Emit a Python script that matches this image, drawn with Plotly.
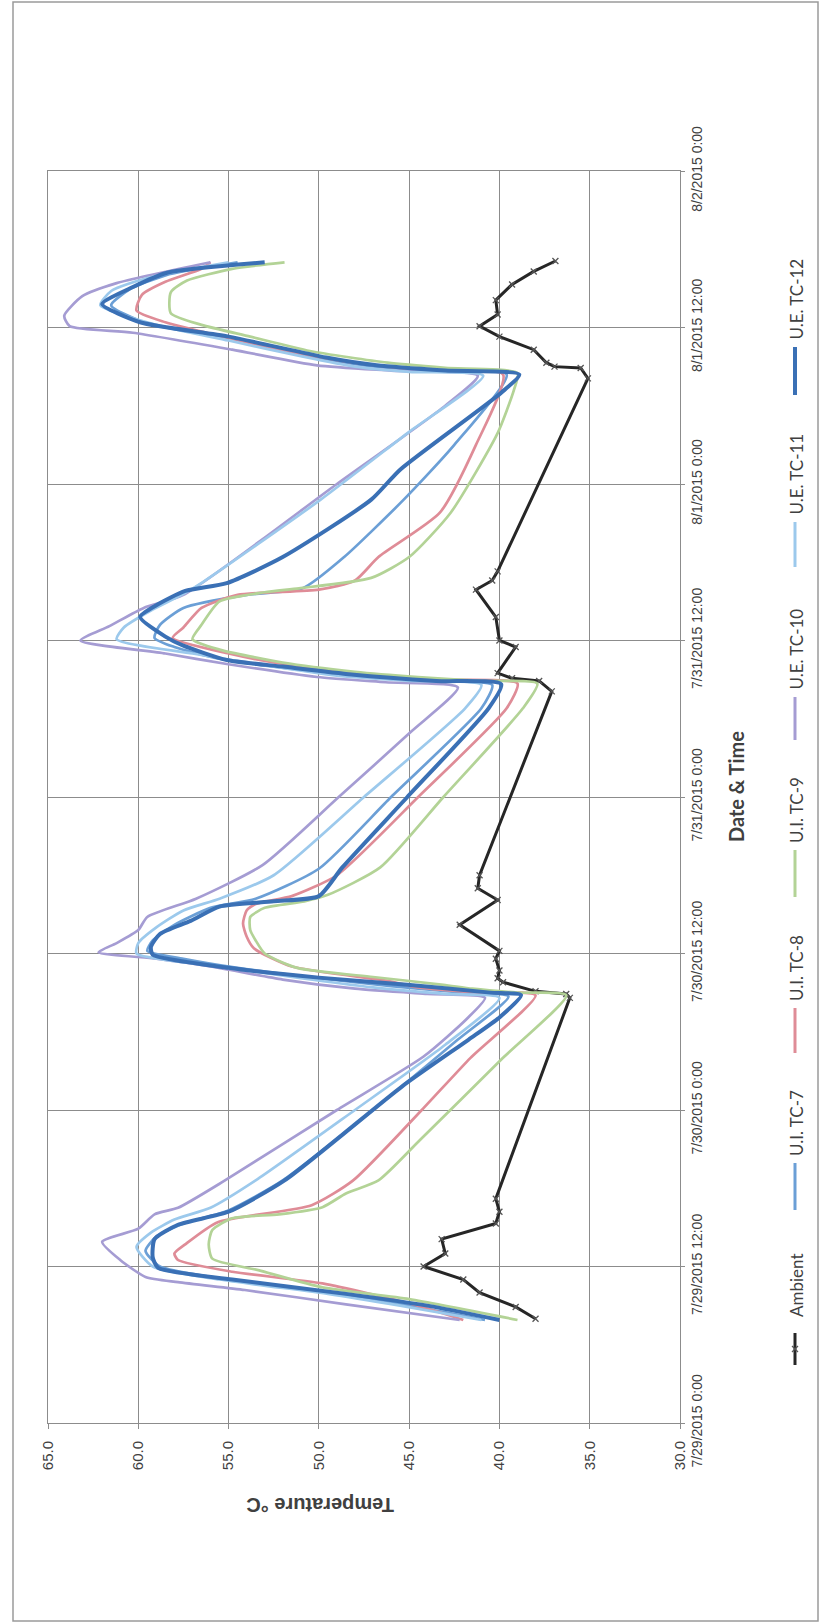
import plotly.graph_objects as go
import pandas as pd

# ---------------- data (hours since 7/29/2015 0:00, temperature in C) ----------------
date_ticks = ["2015-07-29 00:00", "2015-07-29 12:00", "2015-07-30 00:00", "2015-07-30 12:00",
              "2015-07-31 00:00", "2015-07-31 12:00", "2015-08-01 00:00", "2015-08-01 12:00",
              "2015-08-02 00:00"]
date_labels = ["7/29/2015 0:00", "7/29/2015 12:00", "7/30/2015 0:00", "7/30/2015 12:00",
               "7/31/2015 0:00", "7/31/2015 12:00", "8/1/2015 0:00", "8/1/2015 12:00",
               "8/2/2015 0:00"]
temp_ticks = [65, 60, 55, 50, 45, 40, 35, 30]
temp_labels = ["65.0", "60.0", "55.0", "50.0", "45.0", "40.0", "35.0", "30.0"]

ambient_h = [8.0, 8.9, 10.0, 11.0, 12.0, 13.0, 14.1, 15.3, 16.2, 17.2,
             32.6, 32.9, 33.1, 33.8, 34.1, 34.7, 35.6, 36.2, 38.2, 40.1, 41.0, 42.0,
             56.1, 56.9, 57.1, 57.5, 59.5, 60.0, 61.8, 63.9, 64.6, 65.3,
             80.1, 80.9, 81.0, 81.3, 82.3, 83.3, 84.1, 85.0, 86.1, 87.3, 88.3, 89.1]
ambient_t = [38.0, 39.1, 41.1, 42.0, 44.2, 43.0, 43.2, 40.2, 40.0, 40.2,
             36.1, 36.3, 38.0, 39.8, 40.1, 40.0, 40.2, 40.0, 42.2, 40.1, 41.2, 41.1,
             37.1, 37.8, 39.3, 40.1, 39.1, 40.0, 40.2, 41.3, 40.4, 40.1,
             35.1, 35.5, 36.95, 37.4, 38.1, 40.0, 41.1, 40.1, 40.2, 39.3, 38.1, 36.9]

tc7_h = [7.9, 9.0, 9.9, 11.0, 12.0, 13.2, 14.3, 15.3, 16.3, 18.6, 24.0, 29.4, 32.7,
         33.0, 33.5, 34.1, 34.9, 35.6, 36.2, 37.0, 38.2, 39.5, 40.2, 42.5, 48.0, 54.8, 56.6,
         56.9, 57.4, 58.0, 58.6, 59.5, 60.2, 61.2, 62.5, 63.5, 64.0, 66.4, 70.8, 75.0, 80.4,
         80.7, 81.1, 81.8, 83.2, 84.3, 85.7, 86.9, 88.0, 89.0]
tc7_t = [40.8, 45.0, 49.0, 55.0, 58.8, 59.6, 59.0, 57.5, 55.0, 52.0, 47.0, 42.3, 39.5,
         42.0, 46.0, 50.0, 54.5, 57.5, 59.5, 59.2, 58.0, 56.0, 53.5, 50.0, 46.0, 41.0, 40.4,
         44.0, 48.5, 52.5, 55.5, 58.0, 59.1, 58.8, 57.5, 54.0, 50.9, 48.6, 45.3, 42.5, 39.6,
         44.0, 47.5, 50.5, 55.0, 59.5, 61.5, 60.5, 58.5, 54.5]

tc8_h = [7.9, 9.1, 10.7, 11.6, 12.5, 13.0, 13.7, 15.4, 16.7, 18.6, 24.0, 28.0, 32.8,
         33.0, 33.4, 33.9, 35.0, 36.4, 37.3, 38.3, 39.3, 39.8, 40.4, 42.0, 48.0, 54.8, 56.7,
         57.0, 57.5, 58.2, 59.0, 60.2, 61.0, 62.5, 63.5, 63.9, 64.6, 66.4, 69.8, 75.0, 80.4,
         80.7, 81.2, 82.0, 83.2, 84.4, 85.3, 86.5, 87.5, 88.5, 89.0]
tc8_t = [42.0, 44.8, 49.8, 54.8, 57.8, 58.0, 57.4, 55.6, 50.4, 48.1, 44.3, 41.6, 38.0,
         41.0, 44.5, 46.2, 51.5, 53.6, 54.0, 54.2, 54.0, 53.5, 51.5, 49.0, 44.5, 39.6, 39.0,
         43.0, 48.0, 52.0, 55.0, 58.1, 57.5, 56.5, 54.5, 50.0, 48.0, 46.7, 43.3, 41.3, 39.8,
         44.0, 47.5, 51.0, 55.0, 58.5, 60.1, 59.8, 58.5, 56.5, 56.0]

tc9_h = [7.9, 9.5, 10.4, 11.7, 12.6, 13.7, 14.8, 15.7, 16.0, 16.55, 17.6, 18.6, 21.7, 28.0, 32.8,
         33.0, 33.3, 33.6, 34.2, 34.9, 36.0, 37.0, 37.8, 38.8, 39.5, 40.0, 40.5, 42.6, 48.0, 54.8, 56.7,
         56.9, 57.2, 57.6, 58.3, 59.3, 60.1, 61.2, 63.0, 63.7, 64.0, 64.8, 66.4, 69.8, 75.9, 79.2, 80.5,
         80.9, 81.3, 82.2, 83.3, 84.2, 85.1, 86.7, 87.6, 88.5, 89.0]
tc9_t = [39.0, 45.0, 49.8, 53.3, 55.9, 56.1, 55.9, 54.8, 52.2, 49.8, 48.5, 46.7, 44.4, 39.8, 36.3,
         39.0, 41.5, 43.1, 47.0, 51.2, 53.0, 53.5, 53.8, 53.8, 53.0, 50.8, 49.5, 46.6, 43.1, 38.7, 37.9,
         41.0, 44.5, 48.0, 52.0, 55.5, 57.0, 56.5, 55.5, 53.0, 51.1, 47.1, 45.0, 42.7, 40.1, 39.2, 39.0,
         43.0, 46.2, 50.5, 53.8, 56.5, 58.2, 58.2, 57.3, 54.8, 51.9]

tc10_h = [7.9, 9.1, 10.2, 10.8, 11.2, 12.5, 13.9, 14.9, 16.0, 16.5, 18.6, 24.0, 28.1, 31.0, 32.6,
          32.9, 33.3, 34.0, 35.0, 35.6, 36.1, 36.8, 37.8, 38.8, 40.2, 42.8, 48.0, 53.0, 56.4,
          56.8, 57.2, 58.2, 59.0, 60.0, 61.1, 62.5, 63.5, 72.0, 78.0, 80.3,
          80.7, 81.1, 82.3, 83.6, 84.1, 84.9, 86.4, 87.4, 89.0]
tc10_t = [42.2, 48.5, 54.1, 57.8, 59.6, 61.0, 62.0, 60.0, 59.1, 57.8, 55.2, 49.0, 44.2, 41.8, 40.8,
          44.0, 48.0, 52.0, 56.0, 59.0, 62.2, 61.2, 60.0, 59.5, 56.8, 53.1, 48.9, 44.9, 42.3,
          46.3, 50.1, 55.1, 58.5, 63.2, 61.6, 59.7, 57.5, 49.0, 43.0, 41.2,
          46.0, 50.1, 54.8, 60.3, 63.8, 64.1, 63.1, 61.2, 56.0]

tc11_h = [7.9, 9.0, 9.9, 11.0, 12.0, 13.5, 14.6, 15.6, 16.5, 18.6, 24.0, 29.0, 32.6,
          32.9, 33.4, 34.1, 35.0, 35.5, 36.0, 36.8, 38.0, 39.3, 40.2, 42.0, 48.0, 54.8, 56.6,
          56.9, 57.3, 58.1, 59.0, 60.1, 61.0, 62.3, 63.5, 64.5, 70.8, 76.0, 80.3,
          80.6, 81.0, 81.8, 83.0, 84.2, 85.7, 86.8, 87.8, 89.0]
tc11_t = [41.0, 45.5, 49.5, 55.5, 59.2, 60.1, 59.3, 58.0, 56.0, 53.5, 48.0, 43.0, 40.0,
          43.0, 47.0, 51.0, 55.5, 58.5, 60.1, 60.0, 59.0, 57.5, 55.5, 52.5, 47.5, 41.9, 41.0,
          45.0, 49.0, 53.0, 57.0, 61.2, 60.8, 59.3, 57.6, 56.4, 49.9, 45.0, 40.9,
          45.0, 48.0, 51.0, 55.0, 59.0, 62.1, 61.5, 59.5, 55.0]

tc12_h = [7.9, 9.0, 9.9, 11.0, 11.9, 12.7, 14.1, 15.2, 16.2, 18.6, 25.8, 29.4, 31.1, 32.8,
          33.0, 33.6, 34.15, 34.9, 35.9, 36.5, 37.5, 38.5, 39.6, 40.0, 40.4, 42.6, 48.0, 54.8, 56.65,
          56.9, 57.4, 58.0, 58.5, 59.6, 60.3, 61.8, 62.7, 63.8, 64.4, 66.4, 70.8, 73.1, 79.0, 80.4,
          80.7, 81.1, 81.7, 83.3, 84.4, 85.8, 87.1, 88.2, 89.0]
tc12_t = [40.0, 44.0, 48.5, 54.8, 58.9, 59.2, 59.1, 57.8, 55.0, 51.9, 45.4, 41.7, 40.0, 38.8,
          40.5, 45.1, 50.0, 55.0, 59.2, 59.3, 58.8, 57.1, 55.5, 52.5, 50.0, 48.7, 45.1, 40.6, 39.9,
          43.5, 48.2, 52.0, 55.1, 57.5, 58.5, 59.9, 59.0, 57.4, 55.1, 52.0, 47.1, 45.5, 39.9, 38.9,
          43.0, 46.8, 49.6, 55.0, 59.9, 62.0, 60.3, 58.4, 53.0]

series = [
    ("Ambient",   ambient_h, ambient_t, "#262626", 3.0),
    ("U.I. TC-7", tc7_h,  tc7_t,  "#6b9fd6", 2.7),
    ("U.I. TC-8", tc8_h,  tc8_t,  "#df8c97", 2.7),
    ("U.I. TC-9", tc9_h,  tc9_t,  "#b3d396", 2.7),
    ("U.E. TC-10", tc10_h, tc10_t, "#a59cd3", 2.7),
    ("U.E. TC-11", tc11_h, tc11_t, "#9cc9ec", 2.7),
    ("U.E. TC-12", tc12_h, tc12_t, "#3a70b5", 4.0),
]

base = pd.Timestamp("2015-07-29 00:00")

fig = go.Figure()
for name, hrs, temps, color, width in series:
    times = [base + pd.Timedelta(hours=h) for h in hrs]
    if name == "Ambient":
        fig.add_trace(go.Scatter(x=temps, y=times, mode="lines+markers", name=name,
                                 line=dict(color=color, width=width, shape="linear"),
                                 marker=dict(symbol="x-thin", size=6,
                                             line=dict(color="#555555", width=1.3))))
    else:
        fig.add_trace(go.Scatter(x=temps, y=times, mode="lines", name=name,
                                 line=dict(color=color, width=width, shape="spline", smoothing=0.6)))

# ---------------- layout ----------------
L, R, T, B = 48, 680, 171, 1423
W, H = R - L, B - T


def px(x):
    return (x - L) / W


def py(y):
    return (B - y) / H


grid = "#8c8c8c"
fig.update_layout(
    width=821, height=1623,
    margin=dict(l=L, r=821 - R, t=T, b=1623 - B, pad=0),
    plot_bgcolor="white", paper_bgcolor="white",
    showlegend=False,
    xaxis=dict(range=[65, 30], tickmode="array", tickvals=temp_ticks, ticktext=temp_labels,
               tickangle=-90, showgrid=True, gridcolor=grid, gridwidth=1,
               showline=True, linecolor=grid, linewidth=1, mirror=True,
               ticks="outside", ticklen=5, tickcolor=grid, zeroline=False,
               ticklabelstandoff=6,
               tickfont=dict(family="Liberation Sans, Arial", size=15, color="#404040")),
    yaxis=dict(type="date", range=[date_ticks[0], date_ticks[-1]], side="right",
               tickmode="array", tickvals=date_ticks, ticktext=date_labels,
               tickangle=-90, showgrid=True, gridcolor=grid, gridwidth=1,
               showline=True, linecolor=grid, linewidth=1, mirror=True,
               ticks="outside", ticklen=4, tickcolor=grid, zeroline=False,
               tickfont=dict(family="Liberation Sans, Arial", size=14, color="#404040")),
)

shapes = []
annotations = []

# outer chart border
shapes.append(dict(type="rect", xref="paper", yref="paper",
                   x0=px(13), x1=px(818), y0=py(1621), y1=py(2),
                   line=dict(color="#9a9a9a", width=1.5)))

# axis titles
annotations.append(dict(text="<b>Date &amp; Time</b>", xref="paper", yref="paper",
                        x=px(736), y=py(787), xanchor="center", yanchor="middle",
                        textangle=-90, showarrow=False,
                        font=dict(family="Lato, Open Sans", size=20, color="#404040")))
annotations.append(dict(text="<b>Temperature °C</b>", xref="paper", yref="paper",
                        x=px(320), y=py(1505), xanchor="center", yanchor="middle",
                        textangle=180, showarrow=False,
                        font=dict(family="Liberation Sans, Arial", size=20, color="#404040")))

# custom rotated legend (line sample below, text above)
legend_pos = [  # (line bottom, line top, text bottom)
    (1365, 1333, 1319),
    (1210, 1163, 1158),
    (1053, 1008, 1003),
    (897, 850, 845),
    (740, 697, 692),
    (567, 522, 517),
    (395, 347, 342),
]
lx = 795
for (name, hrs, temps, color, width), (yb, yt, ytext) in zip(series, legend_pos):
    lw = 4 if name == "U.E. TC-12" else 3
    shapes.append(dict(type="line", xref="paper", yref="paper",
                       x0=px(lx), x1=px(lx), y0=py(yb), y1=py(yt),
                       line=dict(color=color, width=lw)))
    if name == "Ambient":
        ym = (yb + yt) / 2
        for d in (-1, 1):
            shapes.append(dict(type="line", xref="paper", yref="paper",
                               x0=px(lx - 3), x1=px(lx + 3), y0=py(ym - 3 * d), y1=py(ym + 3 * d),
                               line=dict(color="#555555", width=1.3)))
    annotations.append(dict(text=name, xref="paper", yref="paper",
                            x=px(lx + 1), y=py(ytext), xanchor="center", yanchor="bottom",
                            textangle=-90, showarrow=False,
                            font=dict(family="Lato, Open Sans", size=17, color="#404040")))

fig.update_layout(shapes=shapes, annotations=annotations)
fig.write_html("out.html")
